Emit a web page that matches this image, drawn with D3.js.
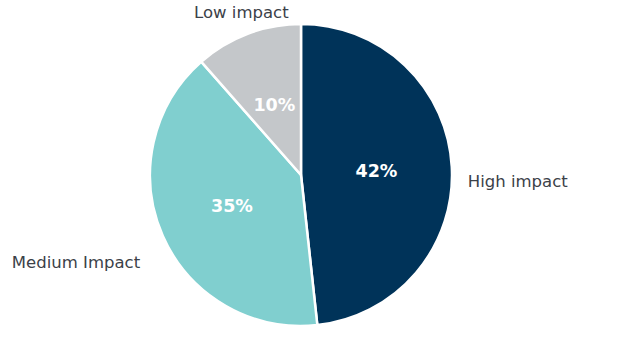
<!DOCTYPE html>
<html><head><meta charset="utf-8">
<script src="https://cdn.jsdelivr.net/npm/d3@7"></script>
<style>body{margin:0;background:#fff}svg{display:block}</style>
</head><body>
<svg id="c" width="629" height="350"></svg>
<script>
const categories = ["High impact", "Medium Impact", "Low impact"];
const values = [42, 35, 10];
const pctLabels = ["42%", "35%", "10%"];
const colors = ["#003359", "#80cfcf", "#c4c7ca"];

const svg = d3.select("#c");
const cx = 301, cy = 175, r = 151;
const g = svg.append("g").attr("transform", `translate(${cx},${cy})`);
const pie = d3.pie().sort(null).value(d => d.v);
const data = pie(categories.map((c, i) => ({c, v: values[i], p: pctLabels[i], col: colors[i]})));
const arc = d3.arc().innerRadius(0).outerRadius(r);
g.selectAll("path").data(data).join("path")
  .attr("d", arc).attr("fill", d => d.data.col)
  .attr("stroke", "#fff").attr("stroke-width", 2.5).attr("stroke-linejoin", "round");

const inner = d3.arc().innerRadius(r * 0.5).outerRadius(r * 0.5);
g.selectAll("text.p").data(data).join("text").attr("class", "p")
  .attr("transform", d => `translate(${inner.centroid(d)})`)
  .attr("text-anchor", "middle").attr("dy", "0.36em")
  .attr("font-family", "DejaVu Sans, Verdana, sans-serif").attr("font-weight", "bold")
  .attr("font-size", 17.5).attr("fill", "#fff").text(d => d.data.p);

// outside labels: radial placement plus small layout nudges
const outer = d3.arc().innerRadius(r + 15).outerRadius(r + 15);
const nudges = [[1, 15], [-9, 20], [-1, -8]];
g.selectAll("text.l").data(data).join("text").attr("class", "l")
  .attr("transform", (d, i) => {
    const [x, y] = outer.centroid(d);
    return `translate(${x + nudges[i][0]},${y + nudges[i][1]})`;
  })
  .attr("text-anchor", d => {
    const a = (d.startAngle + d.endAngle) / 2;
    if (a < Math.PI) return "start";
    if (a > 5.5) return "middle";
    return "end";
  })
  .attr("dy", "0.36em")
  .attr("font-family", "DejaVu Sans, Verdana, sans-serif")
  .attr("font-size", 16.5).attr("fill", "#3b4148").text(d => d.data.c);
</script>
</body></html>
